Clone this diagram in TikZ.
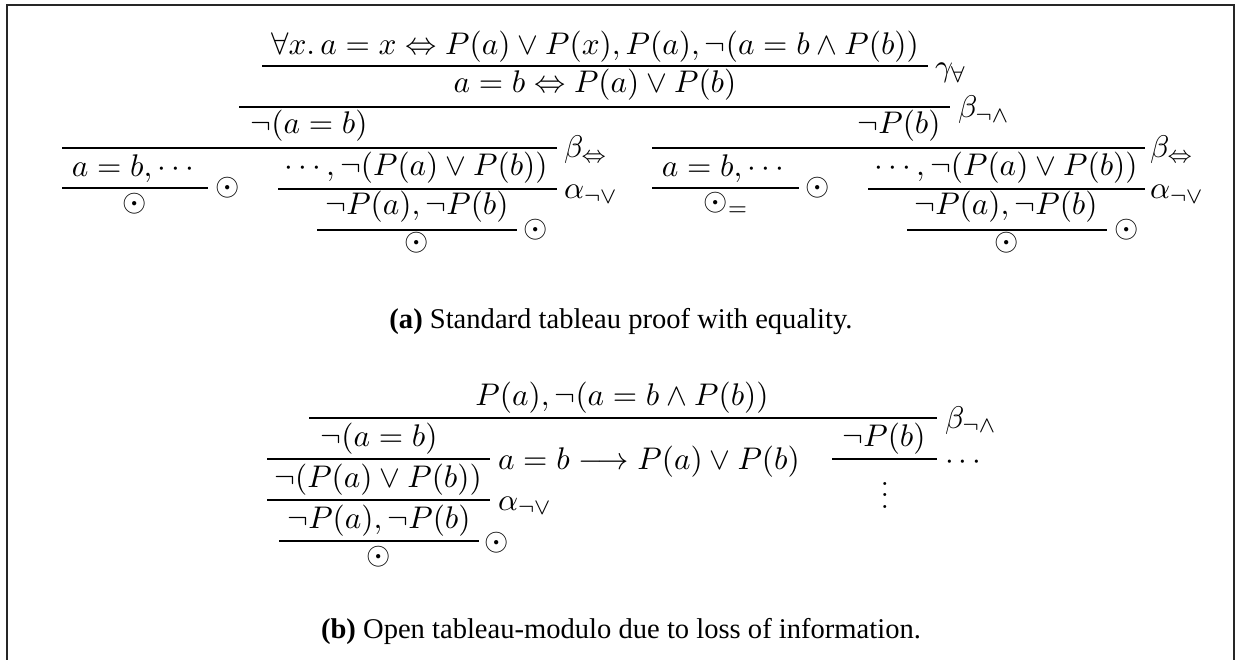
\documentclass[tikz,border=0pt]{standalone}
\usepackage{fontspec}
\newfontfamily\capfont{Liberation Serif}
\begin{document}
\begin{tikzpicture}[x=0.35pt,y=-0.35pt,every node/.style={inner sep=0pt,outer sep=0pt}]
\tikzset{
  fml/.style={anchor=base,font=\fontsize{11}{13}\selectfont},
  sym/.style={font=\fontsize{11}{13}\selectfont},
  lab/.style={anchor=base west,font=\fontsize{11}{13}\selectfont},
  rulebar/.style={line width=0.4pt},
  capt/.style={anchor=base,font=\capfont\fontsize{10}{12}\selectfont},
  frameline/.style={line width=0.7pt,black!85}
}
\useasboundingbox (0,0) rectangle (1238,660);
% frame
\coordinate (fa) at (6.5,660); \coordinate (fb) at (6.5,5);
\coordinate (fc) at (1234,5); \coordinate (fd) at (1234,660);
\draw[frameline] (fa) -- (fb) -- (fc) -- (fd);

% ---------------- (a) ----------------
\node[fml] (n1) at (595,55) {$\forall x.\, a = x \Leftrightarrow P(a) \vee P(x), P(a), \neg(a = b \wedge P(b))$};
\coordinate (L1a) at (262,66); \coordinate (L1b) at (928,66);
\draw[rulebar] (L1a) -- (L1b);
\node[lab] (g1) at (935,77) {$\gamma_{\forall}$};

\node[fml] (n2) at (595,93) {$a = b \Leftrightarrow P(a) \vee P(b)$};
\coordinate (L2a) at (239,107); \coordinate (L2b) at (950,107);
\draw[rulebar] (L2a) -- (L2b);
\node[lab] (g2) at (958,118) {$\beta_{\neg\wedge}$};

\node[fml] (n3) at (309,134) {$\neg(a = b)$};
\node[fml] (n4) at (899,134) {$\neg P(b)$};

\coordinate (L3a) at (62,148); \coordinate (L3b) at (557,148);
\draw[rulebar] (L3a) -- (L3b);
\node[lab] (g3) at (564,158) {$\beta_{\Leftrightarrow}$};
\coordinate (L4a) at (652,148); \coordinate (L4b) at (1145,148);
\draw[rulebar] (L4a) -- (L4b);
\node[lab] (g4) at (1150,158) {$\beta_{\Leftrightarrow}$};

% left branch
\node[fml] (n5) at (133,177) {$a = b, \cdots$};
\coordinate (L5a) at (62,188); \coordinate (L5b) at (208,188);
\draw[rulebar] (L5a) -- (L5b);
\node[sym] (c5) at (228,188) {$\odot$};
\node[sym] (n6) at (135,204) {$\odot$};

\node[fml] (n7) at (416,176) {$\cdots, \neg(P(a) \vee P(b))$};
\coordinate (L6a) at (278,189); \coordinate (L6b) at (557,189);
\draw[rulebar] (L6a) -- (L6b);
\node[lab] (g6) at (564,199) {$\alpha_{\neg\vee}$};

\node[fml] (n8) at (417,215) {$\neg P(a), \neg P(b)$};
\coordinate (L7a) at (317,230); \coordinate (L7b) at (517,230);
\draw[rulebar] (L7a) -- (L7b);
\node[sym] (c7) at (536,230) {$\odot$};
\node[sym] (n9) at (417,243) {$\odot$};

% right branch
\node[fml] (n10) at (723,177) {$a = b, \cdots$};
\coordinate (L8a) at (652,188); \coordinate (L8b) at (799,188);
\draw[rulebar] (L8a) -- (L8b);
\node[sym] (c8) at (818,188) {$\odot$};
\node[fml] (n11) at (726,211) {$\odot_{=}$};

\node[fml] (n12) at (1006,176) {$\cdots, \neg(P(a) \vee P(b))$};
\coordinate (L9a) at (868,189); \coordinate (L9b) at (1145,189);
\draw[rulebar] (L9a) -- (L9b);
\node[lab] (g9) at (1150,199) {$\alpha_{\neg\vee}$};

\node[fml] (n13) at (1006,215) {$\neg P(a), \neg P(b)$};
\coordinate (L10a) at (907,230); \coordinate (L10b) at (1107,230);
\draw[rulebar] (L10a) -- (L10b);
\node[sym] (c10) at (1127,230) {$\odot$};
\node[sym] (n14) at (1007,243) {$\odot$};

\node[capt] (capa) at (621,329) {\textbf{(a)} Standard tableau proof with equality.};

% ---------------- (b) ----------------
\node[fml] (m1) at (622,405) {$P(a), \neg(a = b \wedge P(b))$};
\coordinate (M1a) at (309,418); \coordinate (M1b) at (937,418);
\draw[rulebar] (M1a) -- (M1b);
\node[lab] (h1) at (945,428) {$\beta_{\neg\wedge}$};

\node[fml] (m2) at (379,446) {$\neg(a = b)$};
\node[fml] (m3) at (884,446) {$\neg P(b)$};

\coordinate (M2a) at (267,459); \coordinate (M2b) at (490,459);
\draw[rulebar] (M2a) -- (M2b);
\node[lab] (h2) at (498,469) {$a = b \longrightarrow P(a) \vee P(b)$};
\coordinate (M3a) at (832,459); \coordinate (M3b) at (937,459);
\draw[rulebar] (M3a) -- (M3b);
\node[lab] (h3) at (945,469) {$\cdots$};

\node[fml] (m4) at (378,487) {$\neg(P(a) \vee P(b))$};
\coordinate (M4a) at (267,500); \coordinate (M4b) at (490,500);
\draw[rulebar] (M4a) -- (M4b);
\node[lab] (h4) at (498,510) {$\alpha_{\neg\vee}$};

\node[fml] (m5) at (379,528) {$\neg P(a), \neg P(b)$};
\coordinate (M5a) at (279,541); \coordinate (M5b) at (479,541);
\draw[rulebar] (M5a) -- (M5b);
\node[sym] (c5b) at (497,543) {$\odot$};
\node[sym] (m6) at (379,557) {$\odot$};

\node[fml] (m7) at (885,508) {$\vdots$};

\node[capt] (capb) at (621,638) {\textbf{(b)} Open tableau-modulo due to loss of information.};
\end{tikzpicture}
\end{document}
